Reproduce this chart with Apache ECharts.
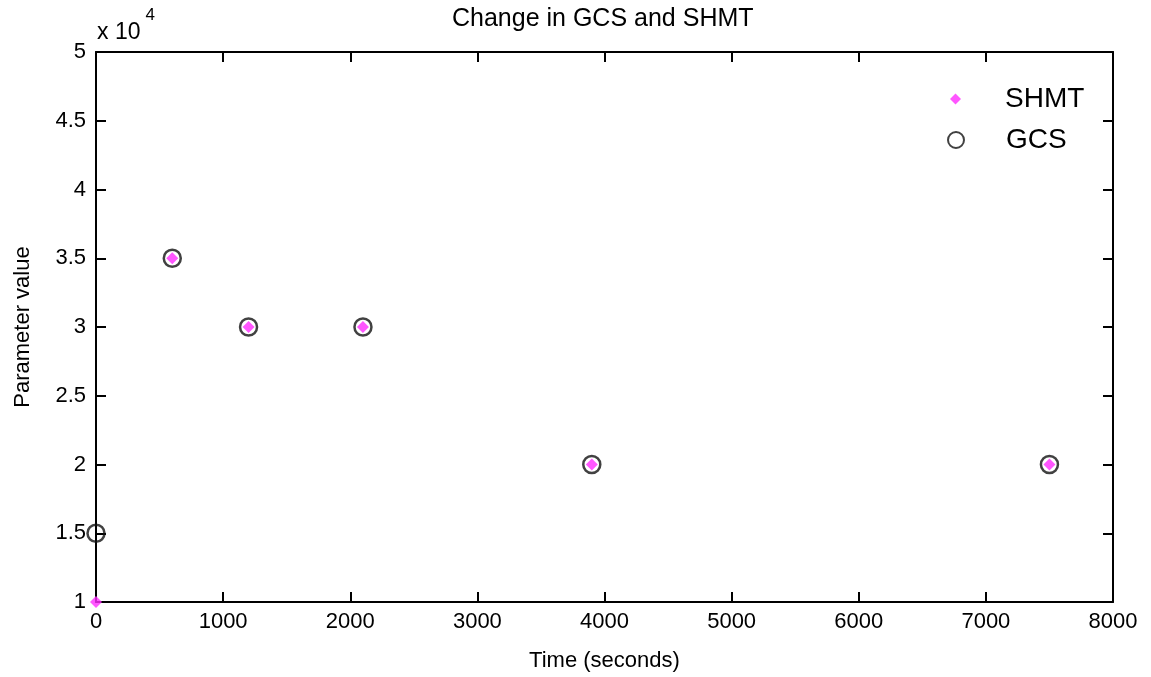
<!DOCTYPE html>
<html>
<head>
<meta charset="utf-8">
<script src="https://cdn.jsdelivr.net/npm/echarts@6/dist/echarts.min.js"></script>
<style>
  html, body { margin: 0; padding: 0; background: #fff; }
  #chart { width: 1151px; height: 677px; }
</style>
</head>
<body>
<div id="chart"></div>
<script>
// time points (seconds)
const timeSHMT = [0, 600, 1200, 2100, 3900, 7500];
const timeGCS = [0, 600, 1200, 2100, 3900, 7500];
// parameter values
const valSHMT = [10000, 35000, 30000, 30000, 20000, 20000];
const valGCS = [15000, 35000, 30000, 30000, 20000, 20000];

const xTicks = [0, 1000, 2000, 3000, 4000, 5000, 6000, 7000, 8000];
const yTickLabels = ['1', '1.5', '2', '2.5', '3', '3.5', '4', '4.5', '5'];

const font = 'Liberation Sans';

let chart = echarts.init(document.getElementById('chart'));

function pairs(xs, ys) {
    return xs.map((x, i) => [x, ys[i]]);
}

let tickStyle = {
    inside: true,
    length: 10,
    lineStyle: { color: '#000', width: 2 }
};
let lineStyle = { color: '#000', width: 2 };

let option = {
    animation: false,
    backgroundColor: '#fff',
    title: {
        text: 'Change in GCS and SHMT',
        left: 447,
        top: 2,
        textStyle: { fontFamily: font, fontSize: 25, fontWeight: 'normal', color: '#000' }
    },
    legend: [
        {
            orient: 'vertical',
            left: 945,
            top: 80,
            itemWidth: 11,
            itemHeight: 11,
            data: ['SHMT'],
            textStyle: { fontFamily: font, fontSize: 28, color: '#000', padding: [0, 0, 0, 39] }
        },
        {
            orient: 'vertical',
            left: 942,
            top: 121,
            itemWidth: 16,
            itemHeight: 16,
            data: ['GCS'],
            textStyle: { fontFamily: font, fontSize: 28, color: '#000', padding: [0, 0, 0, 37] }
        }
    ],
    grid: { left: 96, right: 38, top: 52, bottom: 74 },
    graphic: [
        {
            type: 'text',
            left: 97,
            top: 7,
            style: {
                text: '{b|x 10}{s|4}',
                rich: {
                    b: { fontFamily: font, fontSize: 23, fill: '#000', verticalAlign: 'bottom', padding: [14, 0, 0, 0] },
                    s: { fontFamily: font, fontSize: 17, fill: '#000', verticalAlign: 'top', padding: [0, 0, 14, 5] }
                }
            }
        }
    ],
    xAxis: [
        {
            type: 'value',
            min: 0,
            max: 8000,
            interval: 1000,
            position: 'bottom',
            name: 'Time (seconds)',
            nameLocation: 'middle',
            nameGap: 48,
            nameTextStyle: { fontFamily: font, fontSize: 22, color: '#000' },
            axisLine: { onZero: false, lineStyle: lineStyle },
            axisTick: tickStyle,
            axisLabel: {
                fontFamily: font, fontSize: 22, color: '#000', margin: 9,
                formatter: (v) => String(v)
            },
            splitLine: { show: false }
        },
        {
            type: 'value',
            min: 0,
            max: 8000,
            interval: 1000,
            position: 'top',
            axisLine: { onZero: false, lineStyle: lineStyle },
            axisTick: tickStyle,
            axisLabel: { show: false },
            splitLine: { show: false }
        }
    ],
    yAxis: [
        {
            type: 'value',
            min: 10000,
            max: 50000,
            interval: 5000,
            position: 'left',
            name: 'Parameter value',
            nameLocation: 'middle',
            nameGap: 62,
            nameTextStyle: { fontFamily: font, fontSize: 22, color: '#000' },
            axisLine: { show: true, onZero: false, lineStyle: lineStyle },
            axisTick: tickStyle,
            axisLabel: {
                fontFamily: font, fontSize: 22, color: '#000', margin: 10,
                formatter: (v) => yTickLabels[Math.round((v - 10000) / 5000)]
            },
            splitLine: { show: false }
        },
        {
            type: 'value',
            min: 10000,
            max: 50000,
            interval: 5000,
            position: 'right',
            axisLine: { show: true, onZero: false, lineStyle: lineStyle },
            axisTick: tickStyle,
            axisLabel: { show: false },
            splitLine: { show: false }
        }
    ],
    series: [
        {
            name: 'GCS',
            type: 'scatter',
            clip: false,
            symbol: 'circle',
            symbolSize: 17,
            z: 2,
            itemStyle: { color: 'rgba(0,0,0,0)', borderColor: '#111', borderWidth: 2.5 },
            data: pairs(timeGCS, valGCS)
        },
        {
            name: 'SHMT',
            type: 'scatter',
            clip: false,
            symbol: 'diamond',
            symbolSize: 12,
            z: 3,
            itemStyle: { color: '#ff2cff' },
            data: pairs(timeSHMT, valSHMT)
        }
    ]
};
chart.setOption(option);
</script>
</body>
</html>
